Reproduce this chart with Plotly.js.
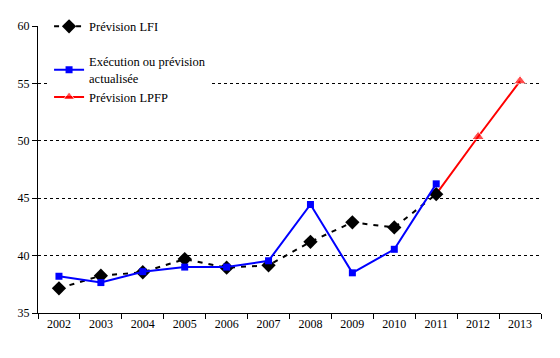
<!DOCTYPE html>
<html><head><meta charset="utf-8">
<script src="https://cdn.plot.ly/plotly-3.0.1.min.js"></script>
<style>body{margin:0;background:#fff}</style>
</head><body><div id="chart" style="width:560px;height:358px"></div>
<script>
var years = ['2002','2003','2004','2005','2006','2007','2008','2009','2010','2011','2012','2013'];
var lfi = [37.15, 38.25, 38.55, 39.7, 38.95, 39.15, 41.2, 42.9, 42.45, 45.35, null, null];
var execution = [38.2, 37.65, 38.6, 39.0, 39.0, 39.55, 44.45, 38.5, 40.55, 46.25, null, null];
var lpfp = [null, null, null, null, null, null, null, null, null, 45.35, 50.35, 55.2];
var yTicks = [35, 40, 45, 50, 55, 60];
var names = ['Prévision LFI', 'Exécution ou prévision<br>actualisée', 'Prévision LPFP'];

var traces = [
  {x: years, y: lpfp, name: names[2], type: 'scatter', mode: 'lines+markers', legendrank: 3, legendgroup: 'b',
   line: {color: '#ff0000', width: 2},
   marker: {symbol: 'triangle-up', color: '#ff0000', size: lpfp.map(function(v, i){ return i === 9 ? 0 : 11; })}},
  {x: years, y: lfi, name: names[0], type: 'scatter', mode: 'lines+markers', legendrank: 1, legendgroup: 'a',
   line: {color: '#000', width: 2, dash: '5px,6px'},
   marker: {symbol: 'diamond', color: '#000', size: 11}},
  {x: years, y: execution, name: names[1], type: 'scatter', mode: 'lines+markers', legendrank: 2, legendgroup: 'b',
   line: {color: '#0000ff', width: 2},
   marker: {symbol: 'square', color: '#0000ff', size: 7}}
];
var layout = {
  width: 560, height: 358,
  margin: {l: 38, r: 19, t: 26, b: 45},
  paper_bgcolor: '#fff', plot_bgcolor: '#fff',
  font: {family: 'Liberation Serif', size: 12.5, color: '#000'},
  showlegend: true,
  legend: {x: 0.022, y: 1.05, xanchor: 'left', yanchor: 'top', bgcolor: '#fff',
           font: {family: 'Liberation Serif', size: 12.5, color: '#000'},
           traceorder: 'grouped', tracegroupgap: 16, itemwidth: 30},
  xaxis: {type: 'category', range: [-0.5, 11.5], showgrid: false, zeroline: false,
          showline: true, linecolor: '#000', linewidth: 1,
          ticks: 'outside', ticklen: 5, tickcolor: '#000', tickson: 'boundaries',
          tickfont: {family: 'Liberation Serif', size: 12, color: '#000'}},
  yaxis: {range: [35, 60], tickvals: yTicks, showgrid: true, gridcolor: '#000', gridwidth: 1,
          griddash: '3px,3px', zeroline: false, showline: true, linecolor: '#000', linewidth: 1,
          ticks: 'outside', ticklen: 5, tickcolor: '#000',
          tickfont: {family: 'Liberation Serif', size: 12, color: '#000'}}
};
Plotly.newPlot('chart', traces, layout, {displayModeBar: false});
</script></body></html>
